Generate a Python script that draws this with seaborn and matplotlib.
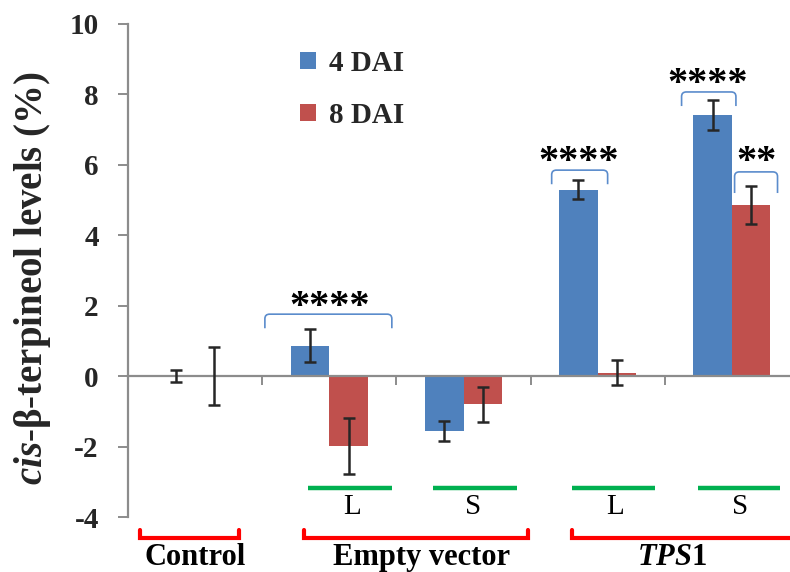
import matplotlib
matplotlib.use("Agg")
import matplotlib.pyplot as plt
from matplotlib.path import Path
from matplotlib.patches import PathPatch
import seaborn as sns
import pandas as pd

# ---- data -------------------------------------------------------------
groups = ["Control", "EV-L", "EV-S", "TPS1-L", "TPS1-S"]
series = ["4 DAI", "8 DAI"]
values_4dai = [0.0, 0.87, -1.56, 5.30, 7.42]
errors_4dai = [0.17, 0.47, 0.28, 0.26, 0.43]
values_8dai = [0.0, -1.98, -0.80, 0.10, 4.86]
errors_8dai = [0.82, 0.80, 0.50, 0.36, 0.54]
yticks = [-4, -2, 0, 2, 4, 6, 8, 10]

BLUE = "#4f81bd"
RED = "#c0504d"
GRAY = "#8c8c8c"

df = pd.DataFrame({
    "group": groups * 2,
    "series": [series[0]] * len(groups) + [series[1]] * len(groups),
    "value": values_4dai + values_8dai,
})

sns.set_theme(style="white")
plt.rcParams["font.family"] = ["Liberation Serif", "DejaVu Serif"]
plt.rcParams["font.weight"] = "bold"
plt.rcParams["mathtext.fontset"] = "custom"
plt.rcParams["mathtext.rm"] = "Liberation Serif:bold"
plt.rcParams["mathtext.it"] = "Liberation Serif:italic:bold"
plt.rcParams["mathtext.bf"] = "Liberation Serif:bold"

W, H = 790, 572
fig = plt.figure(figsize=(W / 100, H / 100), dpi=100)
ax = fig.add_axes([128 / W, (H - 517) / H, (799 - 128) / W, (517 - 24) / H])

sns.barplot(data=df, x="group", y="value", hue="series", order=groups,
            hue_order=series, palette=[BLUE, RED], saturation=1, width=0.574,
            gap=0, errorbar=None, linewidth=0, ax=ax)

# error bars centred on the end of each drawn bar
for cont, errs in zip(ax.containers, [errors_4dai, errors_8dai]):
    for bar, e in zip(cont.patches, errs):
        xc = bar.get_x() + bar.get_width() / 2
        yv = bar.get_y() + bar.get_height()
        ax.errorbar(xc, yv, yerr=e, fmt="none", ecolor="#262626",
                    elinewidth=1.8, capsize=4.6, capthick=1.8, zorder=5)

ax.set_xlim(-0.5, 4.5)
ax.set_ylim(-4, 10)
ax.set_yticks(yticks)
ax.set_yticklabels([str(t) for t in yticks], fontsize=21, fontweight="bold")
ax.set_xticks([0.5, 1.5, 2.5, 3.5])
ax.set_xticklabels([])
ax.set_xlabel("")

for s in ["top", "right"]:
    ax.spines[s].set_visible(False)
ax.spines["left"].set_color(GRAY)
ax.spines["left"].set_linewidth(1.6)
ax.spines["bottom"].set_position(("data", 0))
ax.spines["bottom"].set_color(GRAY)
ax.spines["bottom"].set_linewidth(1.6)
ax.tick_params(axis="y", direction="out", length=7, width=1.4, color=GRAY,
               pad=14, left=True)
ax.tick_params(axis="x", direction="out", length=6.5, width=1.4, color=GRAY,
               bottom=True)

ax.set_ylabel(r"$\mathit{cis}$-β-terpineol levels (%)", fontsize=28,
              fontweight="bold")
ax.yaxis.set_label_coords((33 - 128) / (799 - 128), (517 - 278) / (517 - 24))
ax.yaxis.label.set_verticalalignment("center")

# legend
handles, labels = ax.get_legend_handles_labels()
ax.legend(handles, labels, loc="upper left",
          bbox_to_anchor=(300 / W, 1 - 50 / H), bbox_transform=fig.transFigure,
          frameon=False, borderaxespad=0, borderpad=0, handlelength=0.55,
          handleheight=0.55, handletextpad=0.45, labelspacing=0.85,
          prop={"family": "Liberation Serif", "weight": "bold", "size": 21})


def bracket(x0, x1, ybot, ytop, rx=0.035, ry=0.13):
    verts = [(x0, ybot), (x0, ytop - ry), (x0, ytop), (x0 + rx, ytop),
             (x1 - rx, ytop), (x1, ytop), (x1, ytop - ry), (x1, ybot)]
    codes = [Path.MOVETO, Path.LINETO, Path.CURVE3, Path.CURVE3,
             Path.LINETO, Path.CURVE3, Path.CURVE3, Path.LINETO]
    ax.add_patch(PathPatch(Path(verts, codes), fill=False, edgecolor="#5b8ccc",
                           linewidth=1.2, zorder=6))


def stars(x, y, txt):
    ax.text(x, y, txt, ha="center", va="center", fontsize=29,
            fontweight="bold", color="black", zorder=7)


bracket(0.52, 1.466, 1.36, 1.76)
stars(1.0, 1.95, "****")
bracket(2.657, 3.074, 5.45, 5.85)
stars(2.86, 6.07, "****")
bracket(3.625, 4.03, 7.67, 8.07)
stars(3.82, 8.28, "****")
bracket(4.02, 4.34, 5.20, 5.80)
stars(4.18, 6.07, "**")

# sub-group markers inside the plot
GREEN = "#00b050"
sub = [(0.84, 1.47, 1.17, "L"), (1.77, 2.40, 2.07, "S"),
       (2.81, 3.43, 3.13, "L"), (3.75, 4.36, 4.06, "S")]
for xa, xb, xt, lab in sub:
    ax.plot([xa, xb], [-3.18, -3.18], color=GREEN, lw=3.2,
            solid_capstyle="butt", zorder=4)
    ax.text(xt, -3.72, lab, ha="center", va="center", fontsize=21,
            fontweight="normal", color="black")

# treatment brackets below the axis
RBR = "#ff0000"
treat = [(-0.41, 0.33, 0.0, "Control"), (0.81, 2.48, 1.69, "Empty vector"),
         (2.81, 4.7, 3.55, r"$\mathit{TPS}$1")]
for xa, xb, xt, lab in treat:
    ax.plot([xa, xa, xb, xb], [-4.38, -4.6, -4.6, -4.38], color=RBR, lw=3.0,
            clip_on=False, solid_joinstyle="miter", zorder=4)
    ax.text(xt, -5.15, lab, ha="center", va="center", fontsize=22,
            fontweight="bold", color="black", clip_on=False)

fig.savefig("out.png", dpi=100)
